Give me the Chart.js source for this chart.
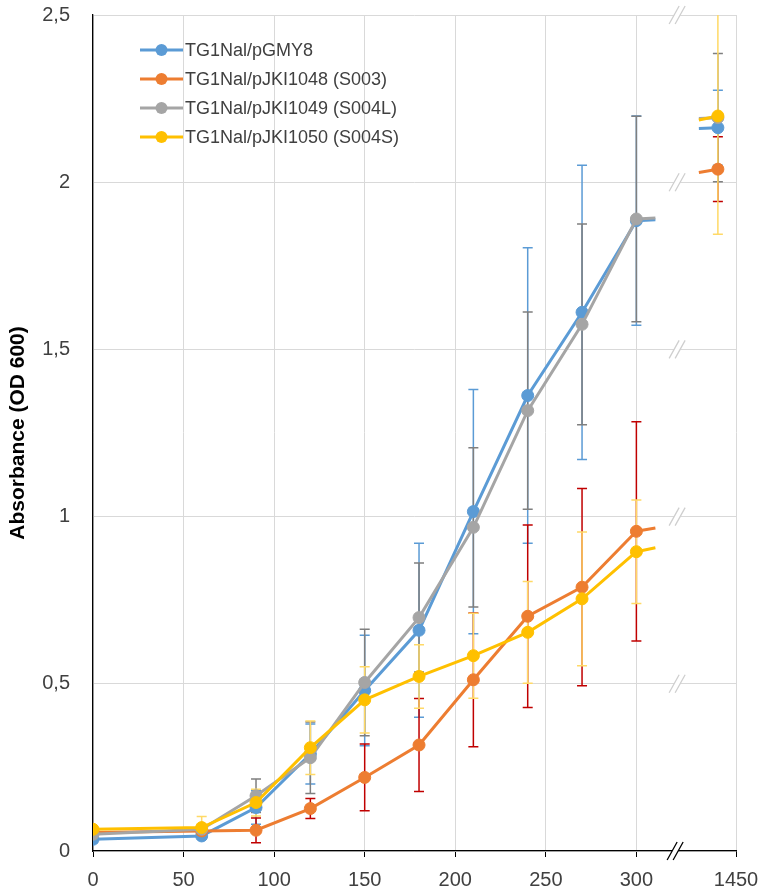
<!DOCTYPE html>
<html>
<head>
<meta charset="utf-8">
<script src="https://cdn.jsdelivr.net/npm/chart.js@4.4.1/dist/chart.umd.min.js"></script>
<style>
  html, body { margin: 0; padding: 0; background: #fff; }
  #wrap { width: 766px; height: 896px; }
</style>
</head>
<body>
<div id="wrap"><canvas id="growthChart"></canvas></div>
<script>
// sampling times (minutes) and absorbance per strain, with SD
const timeMin = [0, 60, 90, 120, 150, 180, 210, 240, 270, 300, 1440];
const pGMY8 = [0.035, 0.045, 0.13, 0.29, 0.48, 0.66, 1.015, 1.362, 1.611, 1.885, 2.163];
const pGMY8Sd = [0.01, 0.01, 0.05, 0.09, 0.165, 0.26, 0.365, 0.442, 0.44, 0.313, 0.112];
const pJKI1048 = [0.055, 0.06, 0.062, 0.127, 0.22, 0.317, 0.512, 0.702, 0.789, 0.956, 2.039];
const pJKI1048Sd = [0.01, 0.01, 0.037, 0.03, 0.1, 0.139, 0.2, 0.273, 0.295, 0.328, 0.097];
const pJKI1049 = [0.05, 0.065, 0.165, 0.279, 0.504, 0.698, 0.968, 1.317, 1.575, 1.89, 2.193];
const pJKI1049Sd = [0.01, 0.01, 0.05, 0.107, 0.159, 0.163, 0.238, 0.295, 0.3, 0.307, 0.192];
const pJKI1050 = [0.065, 0.07, 0.145, 0.309, 0.452, 0.522, 0.584, 0.654, 0.754, 0.895, 2.198];
const pJKI1050Sd = [0.01, 0.033, 0.04, 0.08, 0.099, 0.095, 0.127, 0.152, 0.2, 0.155, 0.354];

const seriesNames = ['TG1Nal/pGMY8', 'TG1Nal/pJKI1048 (S003)', 'TG1Nal/pJKI1049 (S004L)', 'TG1Nal/pJKI1050 (S004S)'];
const xTickValues = [0, 50, 100, 150, 200, 250, 300, 1450];
const xTickLabels = ['0', '50', '100', '150', '200', '250', '300', '1450'];
const yTickLabels = ['0', '0,5', '1', '1,5', '2', '2,5'];

// broken x axis: minutes between BREAK_FROM and BREAK_TO are cut out
const BREAK_FROM = 322.5;
const BREAK_TO = 1417.5;
const STUB = 12; // axis units of line shown each side of the break
function axisX(t) {
  return t <= BREAK_FROM ? t : t - (BREAK_TO - BREAK_FROM);
}

const colors = ['#5b9bd5', '#ed7d31', '#a5a5a5', '#ffc000'];
const errColors = ['#5b9bd5', '#c00000', '#7f7f7f', '#ffd966'];
const values = [pGMY8, pJKI1048, pJKI1049, pJKI1050];
const sds = [pGMY8Sd, pJKI1048Sd, pJKI1049Sd, pJKI1050Sd];

const ctx = document.getElementById('growthChart').getContext('2d');

function hideGap(c) {
  return (c.p0.parsed.x < BREAK_FROM && c.p1.parsed.x > BREAK_FROM) ? 'rgba(0,0,0,0)' : undefined;
}

const datasets = values.map((vals, i) => ({
  label: seriesNames[i],
  data: vals.map((v, j) => ({ x: axisX(timeMin[j]), y: v })),
  sd: sds[i],
  errColor: errColors[i],
  borderColor: colors[i],
  backgroundColor: colors[i],
  pointBackgroundColor: colors[i],
  pointBorderColor: colors[i],
  borderWidth: 3,
  pointRadius: 6,
  pointBorderWidth: 1,
  tension: 0,
  order: 4 - i,
  segment: { borderColor: hideGap }
}));

function forEachDrawOrder(chart, fn) {
  // blue first, yellow last (yellow on top)
  chart.data.datasets.forEach((ds, i) => fn(ds, i, chart.getDatasetMeta(i)));
}

const errorBars = {
  id: 'errorBars',
  beforeDatasetsDraw(chart) {
    const { ctx, chartArea: a, scales: { x, y } } = chart;
    ctx.save();
    ctx.beginPath();
    ctx.rect(a.left, a.top, a.right - a.left, a.bottom - a.top);
    ctx.clip();
    forEachDrawOrder(chart, (ds, i) => {
      ctx.strokeStyle = ds.errColor;
      ctx.lineWidth = 1.5;
      ds.data.forEach((p, j) => {
        const px = x.getPixelForValue(p.x);
        const top = y.getPixelForValue(p.y + ds.sd[j]);
        const bot = y.getPixelForValue(p.y - ds.sd[j]);
        ctx.beginPath();
        ctx.moveTo(px, top); ctx.lineTo(px, bot);
        ctx.moveTo(px - 5, top); ctx.lineTo(px + 5, top);
        ctx.moveTo(px - 5, bot); ctx.lineTo(px + 5, bot);
        ctx.stroke();
      });
    });
    ctx.restore();
  }
};

// short pieces of the 300 -> 1440 line each side of the break
const breakStubs = {
  id: 'breakStubs',
  beforeDatasetsDraw(chart) {
    const { ctx, scales: { x, y } } = chart;
    ctx.save();
    ctx.lineWidth = 3;
    forEachDrawOrder(chart, (ds) => {
      for (let j = 0; j < timeMin.length - 1; j++) {
        const t0 = timeMin[j], t1 = timeMin[j + 1];
        if (!(t0 < BREAK_FROM && t1 > BREAK_FROM)) continue;
        const v0 = ds.data[j].y, v1 = ds.data[j + 1].y;
        const at = t => v0 + (v1 - v0) * (t - t0) / (t1 - t0);
        const tl = BREAK_FROM - STUB;
        const tr = BREAK_TO + STUB;
        ctx.strokeStyle = ds.borderColor;
        ctx.beginPath();
        ctx.moveTo(x.getPixelForValue(axisX(t0)), y.getPixelForValue(v0));
        ctx.lineTo(x.getPixelForValue(axisX(tl)), y.getPixelForValue(at(tl)));
        ctx.moveTo(x.getPixelForValue(axisX(tr)), y.getPixelForValue(at(tr)));
        ctx.lineTo(x.getPixelForValue(axisX(t1)), y.getPixelForValue(v1));
        ctx.stroke();
      }
    });
    ctx.restore();
  }
};

const breakMarks = {
  id: 'breakMarks',
  afterDraw(chart) {
    const { ctx, scales: { x, y } } = chart;
    const bx = x.getPixelForValue(BREAK_FROM);
    function mark(py, color, dx) {
      ctx.save();
      ctx.fillStyle = '#fff';
      ctx.fillRect(bx + dx - 3, py - 2, 6, 4);
      ctx.strokeStyle = color;
      ctx.lineWidth = 1.3;
      ctx.beginPath();
      ctx.moveTo(bx + dx - 8, py + 9); ctx.lineTo(bx + dx + 2, py - 9);
      ctx.moveTo(bx + dx - 2, py + 9); ctx.lineTo(bx + dx + 8, py - 9);
      ctx.stroke();
      ctx.restore();
    }
    [0.5, 1, 1.5, 2, 2.5].forEach(v => mark(y.getPixelForValue(v), '#cfcfcf', 0));
    mark(y.getPixelForValue(0), '#000', -2);
  }
};

const legendBox = {
  id: 'legendBox',
  afterDraw(chart) {
    const { ctx } = chart;
    ctx.save();
    ctx.font = '18px "Liberation Sans", Arial, sans-serif';
    ctx.textBaseline = 'middle';
    ctx.textAlign = 'left';
    chart.data.datasets.forEach((ds, i) => {
      const yy = 50 + i * 29;
      ctx.strokeStyle = ds.borderColor;
      ctx.lineWidth = 3;
      ctx.beginPath();
      ctx.moveTo(140, yy); ctx.lineTo(183, yy);
      ctx.stroke();
      ctx.fillStyle = ds.borderColor;
      ctx.beginPath();
      ctx.arc(161.5, yy, 6, 0, Math.PI * 2);
      ctx.fill();
      ctx.fillStyle = '#404040';
      ctx.fillText(ds.label, 185, yy + 1);
    });
    ctx.restore();
  }
};

new Chart(ctx, {
  type: 'line',
  data: { datasets },
  options: {
    responsive: true,
    maintainAspectRatio: false,
    animation: false,
    layout: { padding: { left: 0, top: 15, right: 30, bottom: 0 } },
    plugins: { legend: { display: false }, tooltip: { enabled: false } },
    scales: {
      x: {
        type: 'linear',
        min: 0,
        max: axisX(1450),
        afterBuildTicks: s => { s.ticks = xTickValues.map(v => ({ value: axisX(v) })); },
        afterFit: s => { s.height = 45; s.paddingLeft = 0; s.paddingRight = 0; },
        ticks: {
          autoSkip: false,
          maxRotation: 0,
          padding: 11,
          color: '#404040',
          font: { family: '"Liberation Sans", Arial, sans-serif', size: 20 },
          callback: (v, i) => xTickLabels[i]
        },
        grid: { color: '#d9d9d9', lineWidth: 1, tickColor: '#000', tickLength: 6 },
        border: { color: '#000', width: 1.3 }
      },
      y: {
        min: 0,
        max: 2.5,
        afterBuildTicks: s => { s.ticks = yTickLabels.map((t, i) => ({ value: i * 0.5 })); },
        afterFit: s => { s.width = 93; s.paddingTop = 0; s.paddingBottom = 0; },
        ticks: {
          padding: 23,
          color: '#404040',
          font: { family: '"Liberation Sans", Arial, sans-serif', size: 20 },
          callback: (v, i) => yTickLabels[i]
        },
        grid: { color: '#d9d9d9', lineWidth: 1, drawTicks: false },
        border: { color: '#000', width: 1.3 },
        title: {
          display: true,
          text: 'Absorbance (OD 600)',
          color: '#000',
          font: { family: '"Liberation Sans", Arial, sans-serif', size: 21, weight: 'bold' },
          padding: { top: 6, bottom: 0 }
        }
      }
    }
  },
  plugins: [breakStubs, errorBars, breakMarks, legendBox]
});
</script>
</body>
</html>
